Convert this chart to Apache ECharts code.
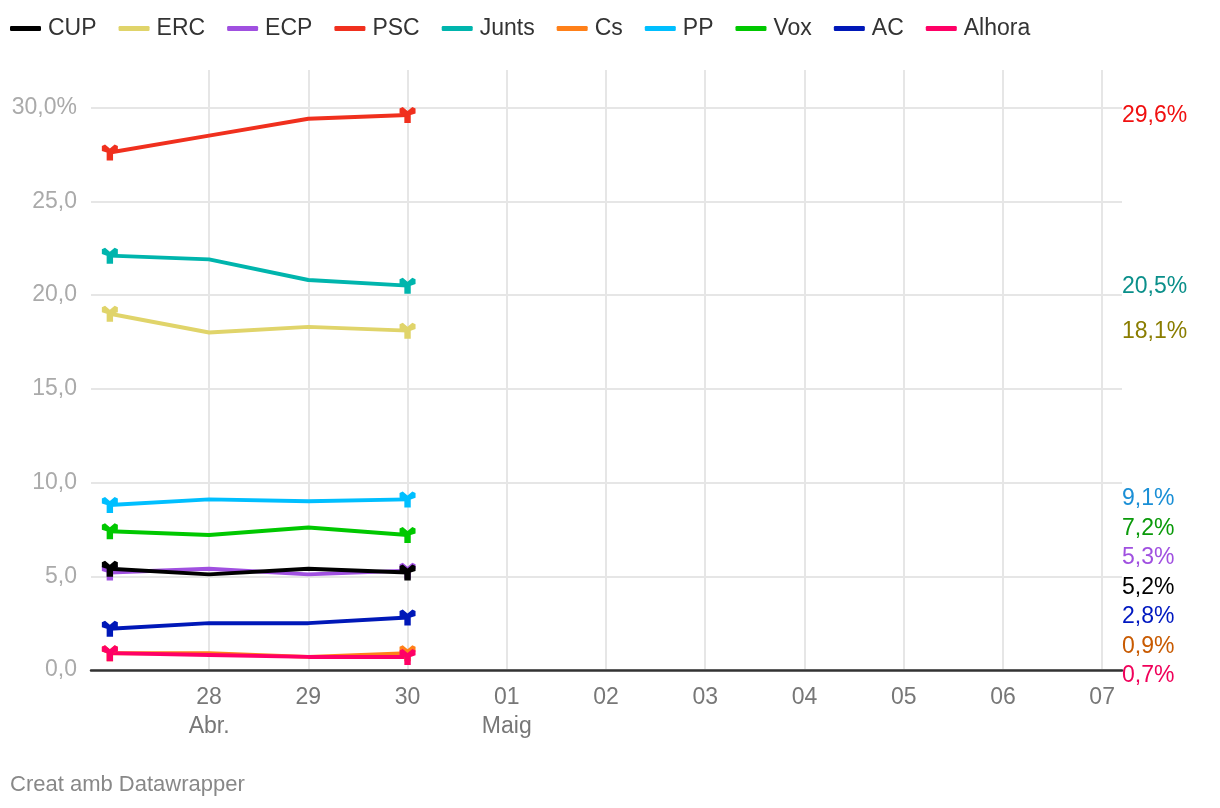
<!DOCTYPE html>
<html>
<head>
<meta charset="utf-8">
<title>Enquesta</title>
<script src="https://cdn.jsdelivr.net/npm/echarts@6/dist/echarts.min.js"></script>
<style>
  html, body { margin: 0; padding: 0; background: #fff; }
  #main { width: 1220px; height: 808px; }
</style>
</head>
<body>
<div id="main"></div>
<script>
// dates of the poll
var dates = ['2024-04-27', '2024-04-28', '2024-04-29', '2024-04-30']
// x axis ticks, day label and month label under it
var tickDates = ['2024-04-28', '2024-04-29', '2024-04-30', '2024-05-01', '2024-05-02',
  '2024-05-03', '2024-05-04', '2024-05-05', '2024-05-06', '2024-05-07']
var tickDays = ['28', '29', '30', '01', '02', '03', '04', '05', '06', '07']
var tickMonths = ['Abr.', '', '', 'Maig', '', '', '', '', '', '']
// y axis ticks
var yTicks = [0, 5, 10, 15, 20, 25, 30]
var yTickLabels = ['0,0', '5,0', '10,0', '15,0', '20,0', '25,0', '30,0%']

var parties = ['CUP', 'ERC', 'ECP', 'PSC', 'Junts', 'Cs', 'PP', 'Vox', 'AC', 'Alhora']
var cup = [5.4, 5.1, 5.4, 5.2]
var erc = [19.0, 18.0, 18.3, 18.1]
var ecp = [5.2, 5.4, 5.1, 5.3]
var psc = [27.6, 28.5, 29.4, 29.6]
var junts = [22.1, 21.9, 20.8, 20.5]
var cs = [0.9, 0.9, 0.7, 0.9]
var pp = [8.8, 9.1, 9.0, 9.1]
var vox = [7.4, 7.2, 7.6, 7.2]
var ac = [2.2, 2.5, 2.5, 2.8]
var alhora = [0.9, 0.8, 0.7, 0.7]
var values = [cup, erc, ecp, psc, junts, cs, pp, vox, ac, alhora]

var lineColors = ['#000000', '#e0d46a', '#a050e0', '#f0301e', '#00b5ad',
  '#ff8019', '#00bfff', '#00c800', '#0018b8', '#ff0066']
var labelColors = ['#000000', '#8a7d00', '#a050e0', '#f01010', '#0a8f8a',
  '#c85a00', '#1a8fd6', '#0a9a0a', '#0018c0', '#f0005a']

var font = '"Liberation Sans", Arial, sans-serif'
var marker = 'path://M0,1 L2,0 L5,2.5 L8,0 L10,1 L10,4 L7,5 L7,10 L3,10 L3,5 L0,4 Z'
var labelGap = 29.5

var chartDom = document.getElementById('main')
var myChart = echarts.init(chartDom)

// days counted from the first poll date
var dayMs = 24 * 3600 * 1000
function toDay(s) {
  var p = s.split('-')
  return Math.round((Date.UTC(+p[0], +p[1] - 1, +p[2]) - Date.UTC(2024, 3, 27)) / dayMs)
}
var tickPos = tickDates.map(toDay)

// end label y positions, filled after first render
var labelY = null

var series = parties.map(function (name, i) {
  var last = values[i].length - 1
  return {
    name: name,
    type: 'line',
    z: name === 'CUP' ? 3 : 2,
    data: values[i].map(function (v, j) { return [toDay(dates[j]), v] }),
    color: lineColors[i],
    lineStyle: { width: 4, color: lineColors[i] },
    symbol: function (value, params) {
      return (params.dataIndex === 0 || params.dataIndex === last) ? marker : 'none'
    },
    symbolSize: [16, 16],
    showSymbol: true,
    itemStyle: { color: lineColors[i] },
    emphasis: { disabled: true },
    endLabel: {
      show: true,
      color: labelColors[i],
      fontFamily: font,
      fontSize: 23,
      formatter: function (p) {
        return p.value[1].toFixed(1).replace('.', ',') + '%'
      }
    },
    labelLayout: function () {
      var o = { x: myChart.getWidth() - 98, verticalAlign: 'middle' }
      if (labelY) o.y = labelY[i] + 1
      return o
    }
  }
})

var option = {
  animation: false,
  backgroundColor: '#fff',
  textStyle: { fontFamily: font },
  legend: {
    left: 10,
    top: 17,
    padding: 0,
    icon: 'roundRect',
    itemWidth: 31,
    itemHeight: 5,
    itemGap: 22,
    textStyle: { color: '#333', fontSize: 23, fontFamily: font, padding: [0, 0, 0, 2] },
    data: parties
  },
  grid: { left: 91, right: 98, top: 70, bottom: 138 },
  xAxis: {
    type: 'value',
    min: -0.19,
    max: tickPos[tickPos.length - 1] + 0.2,
    axisLine: { onZero: false, lineStyle: { color: '#333', width: 2.5 } },
    axisTick: { show: false, customValues: tickPos },
    splitLine: { show: true, lineStyle: { color: '#e6e6e6', width: 2 } },
    axisLabel: {
      customValues: tickPos,
      color: '#777',
      fontSize: 23,
      fontFamily: font,
      lineHeight: 29,
      margin: 13,
      formatter: function (value) {
        var k = tickPos.indexOf(value)
        if (k < 0) return ''
        return tickMonths[k] ? tickDays[k] + '\n' + tickMonths[k] : tickDays[k]
      }
    }
  },
  yAxis: {
    type: 'value',
    min: 0,
    max: 32,
    axisLine: { show: false },
    axisTick: { show: false, customValues: yTicks },
    splitLine: { show: true, lineStyle: { color: '#e6e6e6', width: 2 } },
    axisLabel: {
      customValues: yTicks,
      color: '#aaa',
      fontSize: 23,
      fontFamily: font,
      margin: 14,
      formatter: function (value) {
        return yTickLabels[yTicks.indexOf(value)]
      }
    }
  },
  graphic: [{
    type: 'text',
    left: 10,
    top: 774,
    style: { text: 'Creat amb Datawrapper', fill: '#888', fontSize: 22, fontFamily: font }
  }],
  series: series
}

option && myChart.setOption(option)

// spread overlapping end labels around their mean, like datawrapper does
function spreadLabels() {
  var items = values.map(function (vals, i) {
    var lastIdx = vals.length - 1
    var py = myChart.convertToPixel({ seriesIndex: i }, [toDay(dates[lastIdx]), vals[lastIdx]])[1]
    return { i: i, target: py }
  })
  items.sort(function (a, b) { return a.target - b.target })
  var groups = items.map(function (it) { return { members: [it], top: it.target } })
  var merged = true
  while (merged) {
    merged = false
    for (var g = 0; g < groups.length - 1; g++) {
      var a = groups[g], b = groups[g + 1]
      if (a.top + a.members.length * labelGap > b.top) {
        var members = a.members.concat(b.members)
        var mean = members.reduce(function (s, m) { return s + m.target }, 0) / members.length
        groups.splice(g, 2, { members: members, top: mean - (members.length - 1) * labelGap / 2 })
        merged = true
        break
      }
    }
  }
  var ys = []
  groups.forEach(function (grp) {
    grp.members.forEach(function (m, k) { ys[m.i] = grp.top + k * labelGap })
  })
  return ys
}

labelY = spreadLabels()
myChart.setOption({ series: series })
</script>
</body>
</html>
